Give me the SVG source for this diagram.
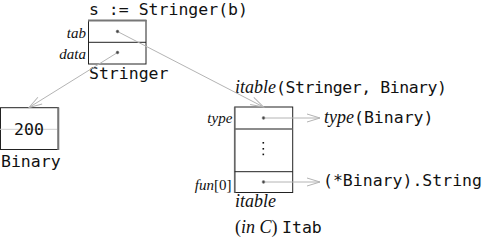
<svg xmlns="http://www.w3.org/2000/svg" width="486" height="238" viewBox="0 0 486 238">
<defs>
<style>
.mono{font-family:"DejaVu Sans Mono",monospace;font-size:16.5px;fill:#111}
.it{font-family:"Liberation Serif",serif;font-style:italic;font-size:18px;fill:#111}
.lab{font-family:"Liberation Serif",serif;font-style:italic;font-size:15px;fill:#111}
.labup{font-family:"Liberation Serif",serif;font-size:15px;fill:#111}
.up{font-family:"Liberation Serif",serif;font-size:18px;fill:#111}
.box{fill:#fff;stroke:#222;stroke-width:1}
.sep{stroke:#222;stroke-width:1}
.gray{stroke:#777;stroke-width:2}
.dot{fill:#444;stroke:#888;stroke-width:0.6}
.conn{stroke:#b4b4b4;stroke-width:1;fill:none}
</style>
<marker id="ah" markerUnits="userSpaceOnUse" markerWidth="16" markerHeight="10" viewBox="-14 -5 16 10" refX="0" refY="0" orient="auto">
<path d="M-13,-4 L0,0 L-13,4" fill="none" stroke="#b4b4b4" stroke-width="1"/>
</marker>
</defs>

<text class="mono" x="89" y="15">s := Stringer(b)</text>

<g id="stringer">
<rect class="box" x="88.5" y="20.5" width="57.5" height="43.5"/>
<line class="gray" x1="88" y1="20.5" x2="146.5" y2="20.5"/>
<line class="sep" x1="88.5" y1="42.3" x2="146" y2="42.3"/>
<text class="lab" x="86" y="37.5" text-anchor="end">tab</text>
<text class="lab" x="86" y="58.5" text-anchor="end">data</text>
<text class="mono" x="89" y="79">Stringer</text>
</g>

<g id="binary">
<rect class="box" x="0.5" y="107.7" width="57.8" height="41.8"/>
<line x1="0" y1="129.3" x2="58" y2="129.3" stroke="#cfcfcf" stroke-width="1"/>
<line class="gray" x1="58.3" y1="107.5" x2="58.3" y2="150"/>
<text class="mono" x="29" y="135" text-anchor="middle">200</text>
<text class="mono" x="1" y="166.5">Binary</text>
</g>

<g id="itable">
<text x="235" y="93"><tspan class="it">itable</tspan><tspan class="mono" textLength="171" lengthAdjust="spacing">(Stringer, Binary)</tspan></text>
<rect class="box" x="234.7" y="107" width="58" height="85.5"/>
<line x1="234.7" y1="107" x2="234.7" y2="193" stroke="#666" stroke-width="1.6"/>
<line x1="234.7" y1="129" x2="292.7" y2="129" stroke="#666" stroke-width="1.6"/>
<line class="sep" x1="234.7" y1="171.7" x2="292.7" y2="171.7"/>
<rect x="262.5" y="142" width="1.6" height="1.6" fill="#111"/>
<rect x="262.5" y="148" width="1.6" height="1.6" fill="#111"/>
<rect x="262.5" y="153.6" width="1.6" height="1.6" fill="#111"/>
<text class="lab" x="232.3" y="123" text-anchor="end">type</text>
<text x="231.5" y="190" text-anchor="end"><tspan class="lab">fun</tspan><tspan class="labup">[0]</tspan></text>
<text class="it" x="235" y="207">itable</text>
<text x="235" y="233"><tspan class="up">(</tspan><tspan class="it">in C</tspan><tspan class="up">) </tspan><tspan class="mono">Itab</tspan></text>
</g>

<g id="type-binary">
<text x="324" y="123"><tspan class="it">type</tspan><tspan class="mono">(Binary)</tspan></text>
</g>

<g id="binary-string">
<text class="mono" x="323" y="186">(*Binary).String</text>
</g>

<g id="connectors">
<line class="conn" x1="117.5" y1="52.5" x2="29" y2="107.5" marker-end="url(#ah)"/>
<line class="conn" x1="117.5" y1="31.5" x2="263.5" y2="107" marker-end="url(#ah)"/>
<line class="conn" x1="263.5" y1="118" x2="320" y2="118" marker-end="url(#ah)"/>
<line class="conn" x1="263.5" y1="182" x2="320" y2="182" marker-end="url(#ah)"/>
</g>

<g id="dots">
<circle class="dot" cx="117.5" cy="31.5" r="1.4"/>
<circle class="dot" cx="117.5" cy="52.5" r="1.4"/>
<circle class="dot" cx="263.5" cy="118" r="1.4"/>
<circle class="dot" cx="263.5" cy="182" r="1.4"/>
</g>
</svg>
